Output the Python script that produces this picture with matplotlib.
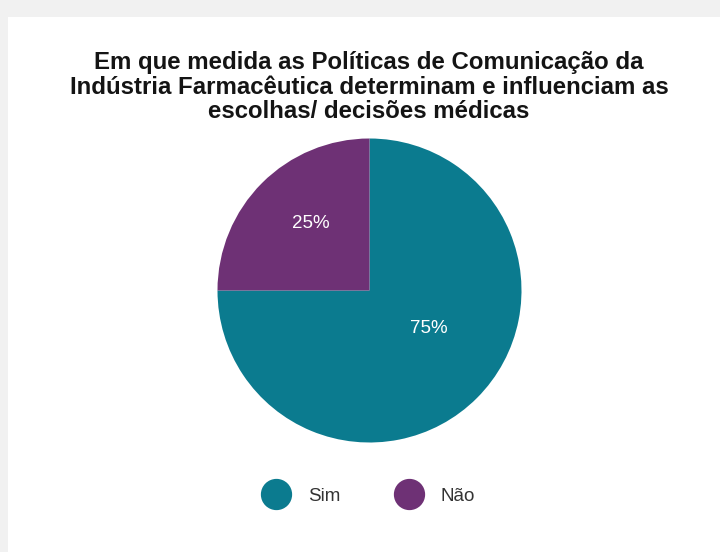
#!/usr/bin/env python3

import matplotlib
matplotlib.use("Agg")
import matplotlib.pyplot as plt
from matplotlib.lines import Line2D
from matplotlib.patches import Rectangle


TITLE_LINES = [
    "Em que medida as Políticas de Comunicação da",
    "Indústria Farmacêutica determinam e influenciam as",
    "escolhas/ decisões médicas",
]
LABELS = ["Sim", "Não"]
VALUES = [75, 25]
COLORS = ["#0b7b8f", "#6e3175"]

W, H = 720, 552


def main() -> None:
    plt.rcParams["font.family"] = ["Liberation Sans", "DejaVu Sans"]
    fig = plt.figure(figsize=(W / 100, H / 100), dpi=100)
    fig.patch.set_facecolor("#f1f1f1")

    # white card over the grey page edge
    fig.add_artist(Rectangle((8 / W, 0), 1, (H - 17) / H, transform=fig.transFigure,
                             facecolor="white", edgecolor="none", zorder=0))

    baselines = [69, 93.5, 117.5]
    for line, y in zip(TITLE_LINES, baselines):
        fig.text(369 / W, 1 - y / H, line, ha="center", va="baseline",
                 fontsize=17.3, fontweight="bold", color="#141414")

    cx, cy, r = 369.5, 290.5, 152
    ax = fig.add_axes([(cx - r) / W, (H - cy - r) / H, 2 * r / W, 2 * r / H])
    wedges, texts, autotexts = ax.pie(
        VALUES, colors=COLORS, startangle=90, counterclock=False,
        autopct="%d%%", pctdistance=0.55, radius=1,
        textprops={"color": "white", "fontsize": 13.5},
    )
    # nudge the slice labels up a little
    x, y = autotexts[0].get_position()
    autotexts[0].set_position((x, y + 0.14))
    x, y = autotexts[1].get_position()
    autotexts[1].set_position((x, y + 0.05))
    ax.set_xlim(-1, 1)
    ax.set_ylim(-1, 1)
    ax.set_aspect("equal")
    ax.axis("off")

    handles = [Line2D([], [], marker="o", linestyle="none", markersize=21.5,
                      markerfacecolor=c, markeredgecolor=c) for c in COLORS]
    fig.legend(handles, LABELS, loc="center", bbox_to_anchor=(366 / W, 1 - 496 / H),
               ncol=2, frameon=False, fontsize=13.5, handletextpad=0.7,
               columnspacing=2.65, labelcolor="#333333")

    fig.savefig("out.png", dpi=100, facecolor=fig.get_facecolor())


if __name__ == "__main__":
    main()
